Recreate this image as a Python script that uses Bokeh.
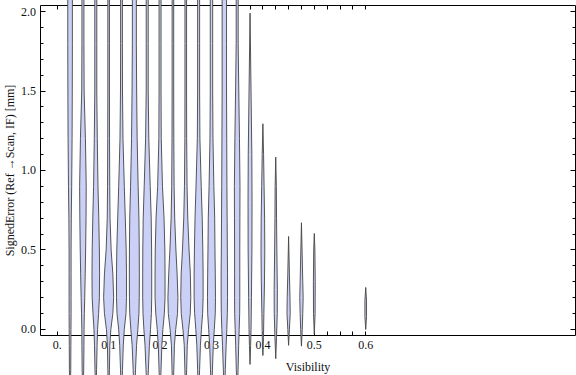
from bokeh.plotting import figure
from bokeh.models import Range1d, LinearAxis, FixedTicker
from bokeh.embed import file_html
from bokeh.resources import INLINE

# ---------------- data ----------------
visibility = [0.025, 0.05, 0.075, 0.1, 0.125, 0.15, 0.175, 0.2, 0.225, 0.25,
              0.275, 0.3, 0.325, 0.35, 0.375, 0.4, 0.425, 0.45, 0.475, 0.5, 0.6]

# signed-error levels (mm) at which the violin density was read (first 14 violins)
levels_main = [-0.45, -0.25, -0.1, 0.0, 0.1, 0.2, 0.35, 0.5, 0.7, 0.9, 1.2, 1.5, 1.8, 2.2]

# relative density (violin half-width) for the 14 wide-spread violins
density_main = [
    [0, 0.7, 0.8, 0.9, 1.0, 1.0, 1.0, 1.0, 1.2, 1.6, 2.0, 2.2, 2.3, 2.3],   # 0.025
    [0, 0.8, 1.0, 1.1, 1.4, 1.8, 2.3, 2.7, 3.1, 3.3, 2.5, 1.2, 1.0, 1.0],   # 0.05
    [0, 0.8, 1.3, 1.8, 2.8, 3.6, 3.8, 3.6, 3.0, 2.2, 1.5, 1.0, 1.0, 1.0],   # 0.075
    [0, 0.8, 1.2, 2.2, 4.2, 5.0, 4.2, 2.5, 1.4, 1.1, 0.9, 0.8, 0.8, 0.8],   # 0.1
    [0, 1.0, 1.8, 2.8, 4.5, 5.0, 5.0, 4.7, 3.8, 2.8, 1.5, 1.0, 0.9, 0.9],   # 0.125
    [0, 1.2, 2.2, 3.5, 4.6, 4.9, 5.0, 4.9, 4.6, 3.8, 2.8, 2.3, 2.0, 2.0],   # 0.15
    [0, 1.2, 2.2, 3.3, 4.2, 4.5, 4.5, 4.4, 4.0, 3.0, 1.6, 1.0, 1.0, 1.0],   # 0.175
    [0, 1.0, 1.8, 2.8, 4.3, 5.0, 5.0, 4.8, 4.0, 2.4, 1.2, 1.0, 1.0, 1.0],   # 0.2
    [0, 0.9, 1.5, 2.8, 4.6, 5.0, 4.2, 3.0, 1.8, 1.2, 0.9, 0.8, 0.8, 0.8],   # 0.225
    [0, 0.9, 1.5, 2.8, 4.5, 5.0, 4.6, 3.3, 2.0, 1.3, 0.9, 0.8, 0.8, 0.8],   # 0.25
    [0, 1.0, 1.8, 2.8, 4.0, 4.5, 4.5, 4.2, 3.6, 2.6, 1.3, 1.0, 1.0, 1.0],   # 0.275
    [0, 1.0, 1.8, 2.8, 3.8, 4.0, 3.8, 3.5, 3.2, 2.4, 1.5, 1.2, 1.2, 1.2],   # 0.3
    [0, 1.0, 1.8, 2.5, 3.0, 3.2, 3.2, 3.0, 2.8, 2.6, 2.4, 2.2, 2.2, 2.2],   # 0.325
    [0, 0.9, 1.5, 2.0, 2.5, 2.6, 2.6, 2.6, 2.7, 2.8, 2.3, 1.6, 1.0, 1.0],   # 0.35
]

# the narrower violins, each with its own range of values
levels_0375 = [-0.22, -0.1, 0.0, 0.2, 0.5, 0.8, 1.1, 1.5, 1.99]
density_0375 = [0, 0.6, 1.0, 1.4, 1.9, 2.0, 1.8, 1.0, 0]
levels_0400 = [-0.164, -0.05, 0.1, 0.3, 0.5, 0.7, 0.9, 1.1, 1.294]
density_0400 = [0, 0.6, 1.0, 1.6, 1.9, 1.7, 1.2, 0.7, 0]
levels_0425 = [-0.184, -0.05, 0.1, 0.25, 0.45, 0.7, 0.9, 1.084]
density_0425 = [0, 0.8, 1.5, 1.6, 1.2, 0.8, 0.6, 0]
levels_0450 = [-0.10, 0.0, 0.1, 0.2, 0.35, 0.585]
density_0450 = [0, 0.8, 1.6, 1.4, 0.8, 0]
levels_0475 = [-0.105, 0.0, 0.1, 0.2, 0.3, 0.45, 0.671]
density_0475 = [0, 0.8, 1.3, 1.7, 1.3, 0.8, 0]
levels_0500 = [-0.03, 0.1, 0.3, 0.5, 0.604]
density_0500 = [0, 0.8, 0.9, 0.6, 0]
levels_0600 = [0.0, 0.08, 0.18, 0.264]
density_0600 = [0, 0.8, 0.8, 0]

x_major_ticks = [0.0, 0.1, 0.2, 0.3, 0.4, 0.5, 0.6]
x_major_labels = ["0.", "0.1", "0.2", "0.3", "0.4", "0.5", "0.6"]
x_minor_ticks = [0.025, 0.05, 0.075, 0.125, 0.15, 0.175, 0.225, 0.25, 0.275,
                 0.325, 0.35, 0.375, 0.425, 0.45, 0.475, 0.525, 0.55, 0.575]
y_major_ticks = [0.0, 0.5, 1.0, 1.5, 2.0]
y_major_labels = ["0.0", "0.5", "1.0", "1.5", "2.0"]
y_minor_ticks = [0.1, 0.2, 0.3, 0.4, 0.6, 0.7, 0.8, 0.9, 1.1, 1.2, 1.3, 1.4,
                 1.6, 1.7, 1.8, 1.9]

# plot-range of the framed area
X_FRAME = (-0.0335, 1.008)
Y_FRAME = (-0.038, 2.041)

# ---------------- layout / style ----------------
W, H = 576, 375
FRAME_LEFT, FRAME_RIGHT, FRAME_TOP, FRAME_BOTTOM = 39.5, 575.0, 4.5, 335.0  # px
WIDTH_SCALE = 1.0 / 514.0  # density unit -> x data units

sx = (FRAME_RIGHT - FRAME_LEFT) / (X_FRAME[1] - X_FRAME[0])
sy = (FRAME_BOTTOM - FRAME_TOP) / (Y_FRAME[1] - Y_FRAME[0])
x_range = Range1d(X_FRAME[0] - FRAME_LEFT / sx, X_FRAME[1] + (W - FRAME_RIGHT) / sx)
y_range = Range1d(Y_FRAME[0] - (H - FRAME_BOTTOM) / sy, Y_FRAME[1] + FRAME_TOP / sy)

FONT = "Liberation Serif"
FILL = "#cbd1f6"
EDGE = "#454545"

p = figure(width=W, height=H, x_range=x_range, y_range=y_range,
           output_backend="svg", toolbar_location=None,
           x_axis_location=None, y_axis_location=None, min_border=0)
p.grid.grid_line_color = None
p.outline_line_color = None
p.background_fill_color = "white"
p.border_fill_color = "white"

# ---------------- violins ----------------
all_levels = [levels_main] * len(density_main) + [
    levels_0375, levels_0400, levels_0425, levels_0450, levels_0475, levels_0500, levels_0600]
all_density = density_main + [
    density_0375, density_0400, density_0425, density_0450, density_0475, density_0500, density_0600]

xs, ys = [], []
for c, lev, den in zip(visibility, all_levels, all_density):
    right = [c + d * WIDTH_SCALE for d in den]
    left = [c - d * WIDTH_SCALE for d in den]
    xs.append(right + left[::-1])
    ys.append(list(lev) + list(lev)[::-1])

p.patches(xs, ys, fill_color=FILL, line_color=EDGE, line_width=1.0,
          line_alpha=0.9, level="overlay")


# ---------------- frame axes ----------------
def style(ax, major_in, minor_in):
    ax.axis_line_color = "black"
    ax.axis_line_width = 1
    ax.major_tick_line_color = "black"
    ax.minor_tick_line_color = "black"
    ax.major_tick_in = major_in
    ax.major_tick_out = 0
    ax.minor_tick_in = minor_in
    ax.minor_tick_out = 0
    ax.major_label_text_font = FONT
    ax.major_label_text_font_size = "12px"
    ax.major_label_text_color = "#111111"
    ax.axis_label_text_font = FONT
    ax.axis_label_text_font_size = "12px"
    ax.axis_label_text_font_style = "normal"
    ax.axis_label_text_color = "#111111"


xb = LinearAxis(fixed_location=Y_FRAME[0], bounds=X_FRAME,
                ticker=FixedTicker(ticks=x_major_ticks, minor_ticks=x_minor_ticks),
                axis_label="Visibility")
xb.major_label_overrides = dict(zip(x_major_ticks, x_major_labels))
style(xb, 4, 4)
xb.major_label_standoff = 5
xb.axis_label_standoff = 8
p.add_layout(xb, "below")

xt = LinearAxis(fixed_location=Y_FRAME[1], bounds=X_FRAME,
                ticker=FixedTicker(ticks=x_major_ticks, minor_ticks=x_minor_ticks))
xt.major_label_overrides = {t: "" for t in x_major_ticks}
style(xt, 4, 4)
p.add_layout(xt, "above")

yl = LinearAxis(fixed_location=X_FRAME[0], bounds=Y_FRAME,
                ticker=FixedTicker(ticks=y_major_ticks, minor_ticks=y_minor_ticks),
                axis_label="SignedError (Ref \u2192Scan, IF) [mm]")
yl.major_label_overrides = dict(zip(y_major_ticks, y_major_labels))
style(yl, 5, 3)
yl.major_label_standoff = 4
yl.axis_label_standoff = 2
p.add_layout(yl, "left")

yr = LinearAxis(fixed_location=X_FRAME[1], bounds=Y_FRAME,
                ticker=FixedTicker(ticks=y_major_ticks, minor_ticks=y_minor_ticks))
yr.major_label_overrides = {t: "" for t in y_major_ticks}
style(yr, 5, 3)
p.add_layout(yr, "right")

open("out.html", "w").write(file_html(p, INLINE))
